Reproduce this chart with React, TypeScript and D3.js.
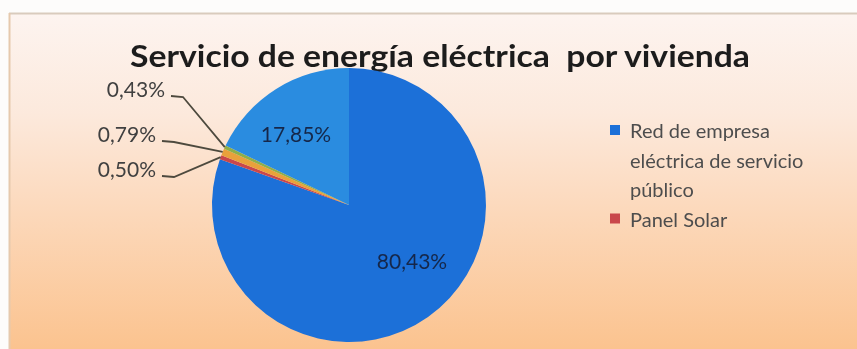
import React from "react";
import * as d3 from "d3";

const title = "Servicio de energía eléctrica  por vivienda";
const categories = [
  "Red de empresa eléctrica de servicio público",
  "Panel Solar",
  "Otra fuente 1",
  "Otra fuente 2",
  "Otra fuente 3",
];
const values = [80.43, 0.5, 0.79, 0.43, 17.85];
const valueLabels = ["80,43%", "0,50%", "0,79%", "0,43%", "17,85%"];
const colors = ["#1b6fd8", "#c9474c", "#e9a13a", "#8fae4a", "#2a8ce0"];
const legendItems = [
  { lines: ["Red de empresa", "eléctrica de servicio", "público"], color: "#1b6fd8" },
  { lines: ["Panel Solar"], color: "#c9474c" },
];

// layout (offsets relative to pie centre)
const W = 857;
const H = 349;
const cx = 349;
const cy = 205;
const R = 137;
const insideOffsets: Record<number, [number, number]> = { 0: [63, 55], 4: [-53, -72] };
const outsideAnchors: Record<number, [number, number]> = {
  1: [-193, -37],
  2: [-193, -72],
  3: [-184, -117],
};

export default function App() {
  const pie = d3.pie<number>().sort(null).startAngle(0).endAngle(Math.PI * 2);
  const arcs = pie(values);
  const arc = d3.arc<d3.PieArcDatum<number>>().innerRadius(0).outerRadius(R);

  return (
    <svg
      width={W}
      height={H}
      style={{ position: "absolute", left: 0, top: 0, display: "block" }}
      fontFamily="Lato, 'Open Sans', sans-serif"
    >
      <defs>
        <linearGradient id="bg" x1="0" y1="0" x2="0" y2="1">
          <stop offset="0" stopColor="#fdf4f0" />
          <stop offset="0.3" stopColor="#fce9dc" />
          <stop offset="0.6" stopColor="#fcd8ba" />
          <stop offset="1" stopColor="#fbc38f" />
        </linearGradient>
        <filter id="blur" x="-5%" y="-5%" width="110%" height="110%">
          <feGaussianBlur stdDeviation="0.7" />
        </filter>
      </defs>
      <rect x={0} y={0} width={W} height={H} fill="#fdfcfb" />
      <rect x={9} y={13} width={W - 9} height={H - 13} fill="url(#bg)" />
      <line x1={9} y1={13.5} x2={W} y2={13.5} stroke="#d9cbbd" strokeWidth={2} />
      <line x1={9.5} y1={13} x2={9.5} y2={H} stroke="#e6c9ad" strokeWidth={2} />

      <g filter="url(#blur)">
        <text
          x={440}
          y={67}
          textAnchor="middle"
          fontSize={30}
          fontWeight={700}
          fill="#1f1f1f"
          textLength={620}
          lengthAdjust="spacingAndGlyphs"
          style={{ whiteSpace: "pre" }}
        >
          {title}
        </text>

        <g transform={`translate(${cx},${cy})`}>
          {arcs.map((a, i) => (
            <path key={categories[i]} d={arc(a) || ""} fill={colors[i]} />
          ))}
          {arcs.map((a, i) => {
            if (insideOffsets[i]) {
              const [dx, dy] = insideOffsets[i];
              return (
                <text
                  key={"l" + i}
                  x={dx}
                  y={dy}
                  textAnchor="middle"
                  dominantBaseline="central"
                  fontSize={21}
                  fill="#15284a"
                >
                  {valueLabels[i]}
                </text>
              );
            }
            const [tx, ty] = outsideAnchors[i];
            const mid = (a.startAngle + a.endAngle) / 2;
            const ex = Math.sin(mid) * R;
            const ey = -Math.cos(mid) * R;
            const sx = tx + 6;
            const sy = ty + 8;
            const path = d3.path();
            path.moveTo(sx, sy);
            path.lineTo(sx + 12, sy + 1);
            path.lineTo(ex, ey);
            return (
              <g key={"l" + i}>
                <path d={path.toString()} fill="none" stroke="#4d4a3e" strokeWidth={1.8} />
                <text
                  x={tx}
                  y={ty}
                  textAnchor="end"
                  dominantBaseline="central"
                  fontSize={21}
                  fill="#404040"
                >
                  {valueLabels[i]}
                </text>
              </g>
            );
          })}
        </g>

        <g transform="translate(610,0)">
          {(() => {
            let line = 0;
            return legendItems.map((item) => {
              const y0 = 130 + line * 29.5;
              line += item.lines.length;
              return (
                <g key={item.lines[0]}>
                  <rect x={0} y={y0 - 5} width={10} height={10} fill={item.color} />
                  {item.lines.map((t, j) => (
                    <text
                      key={t}
                      x={20}
                      y={y0 + j * 29.5}
                      dominantBaseline="central"
                      fontSize={20}
                      fill="#4d4d4d"
                    >
                      {t}
                    </text>
                  ))}
                </g>
              );
            });
          })()}
        </g>
      </g>
    </svg>
  );
}
